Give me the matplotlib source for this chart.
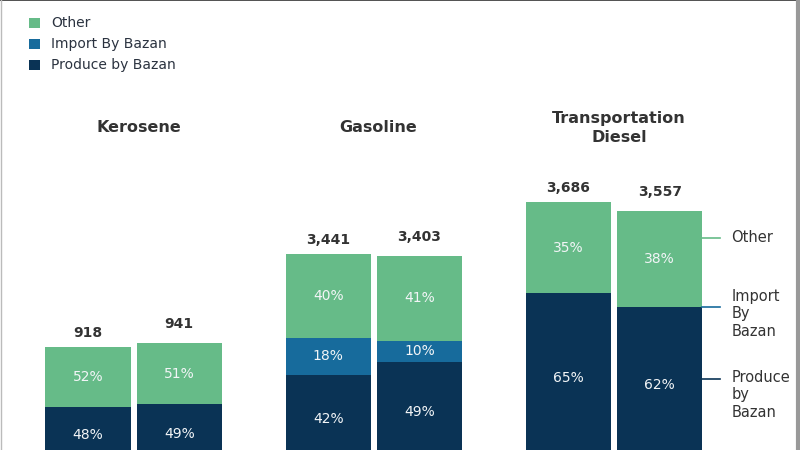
import matplotlib.pyplot as plt
from matplotlib.patches import Rectangle
from matplotlib.lines import Line2D
import numpy as np

# datos
productos = ["Kerosene", "Gasoline", "Transportation\nDiesel"]
totales = [[918, 941], [3441, 3403], [3686, 3557]]
# alturas dibujadas de las barras (el grafico original no esta a escala)
alturas = [[116, 120], [209, 207], [261, 252]]
pct_produce = [[48, 49], [42, 49], [65, 62]]
pct_import = [[0, 0], [18, 10], [0, 0]]
pct_other = [[52, 51], [40, 41], [35, 38]]

series = ["Other", "Import By Bazan", "Produce by Bazan"]
colores = {"Other": "#66bb88", "Import By Bazan": "#176b9c", "Produce by Bazan": "#0a3355"}
texto_color = "#333333"

plt.rcParams['font.family'] = ['DejaVu Sans']

fig = plt.figure(figsize=(8, 4.5), dpi=100)
# el eje baja un poco por debajo de la figura: las barras quedan cortadas
ax = fig.add_axes([0, -13/450, 1, 463/450])
ax.set_xlim(-0.556, 2.774)
ax.set_ylim(0, 463)
ax.axis("off")

ancho = 0.355
desp = 0.19

for g in range(len(productos)):
	for b in range(2):
		x = g + (b - 0.5) * 2 * desp
		h = alturas[g][b]
		base = 0
		for nombre, pct in [("Produce by Bazan", pct_produce), ("Import By Bazan", pct_import), ("Other", pct_other)]:
			p = pct[g][b]
			alto = h * p / 100
			ax.bar(x, alto, bottom=base, width=ancho, color=colores[nombre], linewidth=0)
			if p > 0:
				ax.text(x, base + alto / 2, "%d%%" % p, ha="center", va="center",
						color="#f2f5f7", fontsize=10)
			base += alto
		# total arriba de la barra
		ax.text(x, h + (14 if b == 0 else 19), "{:,}".format(totales[g][b]), ha="center",
				va="center", fontsize=10, fontweight="bold", color=texto_color)
	ax.text(g + 0.02, 463 - 128, productos[g], ha="center", va="center", fontsize=11.5,
			fontweight="bold", color=texto_color, linespacing=1.38)

# etiquetas a la derecha
x_fin = 2 + desp + ancho / 2
etiquetas = [("Other", 463 - 238, "center", 0), ("Import\nBy\nBazan", 463 - 307, "top", 18),
			 ("Produce\nby\nBazan", 463 - 379, "top", 9)]
for (txt, y, va, dy), nombre in zip(etiquetas, series):
	ax.plot([x_fin, x_fin + 0.072], [y, y], color=colores[nombre], linewidth=1.2)
	ax.text(x_fin + 0.12, y + dy, txt, ha="left", va=va, fontsize=10.5, color=texto_color,
			linespacing=1.2)

# leyenda arriba a la izquierda
for i, nombre in enumerate(series):
	yc = 1 - (23 + 21 * i) / 450
	fig.add_artist(Rectangle((29/800, yc - 5/450), 11/800, 10/450, transform=fig.transFigure,
							 facecolor=colores[nombre], edgecolor="none"))
	fig.text(51/800, yc, nombre, ha="left", va="center", fontsize=10, color="#2b3340")

# marco de la imagen
fig.add_artist(Line2D([0, 1], [0.999, 0.999], transform=fig.transFigure, color="#333333", linewidth=1.2))
fig.add_artist(Line2D([0.9975, 0.9975], [0, 1], transform=fig.transFigure, color="#999999", linewidth=3))
fig.add_artist(Line2D([0.001, 0.001], [0, 1], transform=fig.transFigure, color="#bbbbbb", linewidth=1))

fig.savefig("out.png", dpi=100)
